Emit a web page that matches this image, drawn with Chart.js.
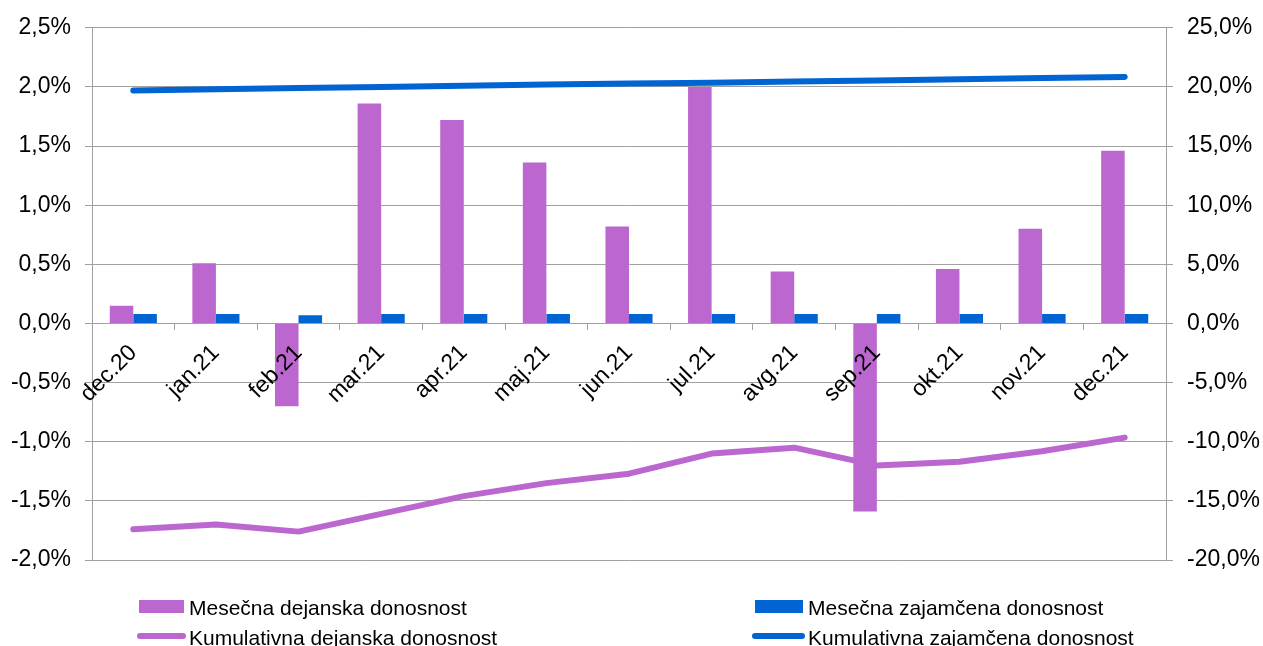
<!DOCTYPE html>
<html>
<head>
<meta charset="utf-8">
<script src="https://cdn.jsdelivr.net/npm/chart.js@4.4.0/dist/chart.umd.min.js"></script>
<style>
  body { margin: 0; background: #fff; overflow: hidden; }
  #wrap { position: relative; width: 1263px; height: 646px; }
  .leg { position: absolute; font-family: "Liberation Sans", Arial, sans-serif; font-size: 21px; color: #000; white-space: nowrap; line-height: 21px; }
  .sw { position: absolute; }
</style>
</head>
<body>
<div id="wrap">
  <canvas id="myChart"></canvas>
  <div class="sw" style="left:139px;top:600px;width:45px;height:13px;background:#bc66cf"></div>
  <div class="leg" style="left:189px;top:597px">Mesečna dejanska donosnost</div>
  <div class="sw" style="left:755px;top:600px;width:48px;height:13px;background:#0064d2"></div>
  <div class="leg" style="left:808px;top:597px">Mesečna zajamčena donosnost</div>
  <div class="sw" style="left:137px;top:633px;width:49px;height:6px;border-radius:3px;background:#bc66cf"></div>
  <div class="leg" style="left:189px;top:627px">Kumulativna dejanska donosnost</div>
  <div class="sw" style="left:752px;top:633px;width:53px;height:6px;border-radius:3px;background:#0064d2"></div>
  <div class="leg" style="left:808px;top:627px">Kumulativna zajamčena donosnost</div>
</div>
<script>
const months = ['dec.20', 'jan.21', 'feb.21', 'mar.21', 'apr.21', 'maj.21', 'jun.21',
  'jul.21', 'avg.21', 'sep.21', 'okt.21', 'nov.21', 'dec.21'];

// monthly returns, left axis (%)
const monthlyActual = [0.15, 0.51, -0.70, 1.86, 1.72, 1.36, 0.82, 2.00, 0.44, -1.59, 0.46, 0.80, 1.46];
const monthlyGuaranteed = [0.08, 0.08, 0.07, 0.08, 0.08, 0.08, 0.08, 0.08, 0.08, 0.08, 0.08, 0.08, 0.08];

// cumulative returns, right axis (%)
const cumActual = [-17.4, -17.0, -17.6, -16.1, -14.6, -13.5, -12.7, -11.0, -10.5, -12.0, -11.7, -10.8, -9.65];
const cumGuaranteed = [19.7, 19.8, 19.9, 20.0, 20.1, 20.2, 20.3, 20.35, 20.45, 20.55, 20.65, 20.75, 20.85];

const purple = '#bc66cf';
const blue = '#0064d2';
const grey = '#a0a0a0';
const font = { family: '"Liberation Sans", Arial, sans-serif', size: 23 };

const fmt = (v) => v.toFixed(1).replace('.', ',') + '%';

const ctx = document.getElementById('myChart');

new Chart(ctx, {
  data: {
    labels: months,
    datasets: [
      { type: 'line', label: 'Kumulativna dejanska donosnost', data: cumActual, yAxisID: 'y1',
        borderColor: purple, borderWidth: 6, borderCapStyle: 'round', borderJoinStyle: 'round',
        pointRadius: 0, tension: 0, order: 0 },
      { type: 'line', label: 'Kumulativna zajamčena donosnost', data: cumGuaranteed, yAxisID: 'y1',
        borderColor: blue, borderWidth: 6, borderCapStyle: 'round', borderJoinStyle: 'round',
        pointRadius: 0, tension: 0, order: 0 },
      { type: 'bar', label: 'Mesečna dejanska donosnost', data: monthlyActual, yAxisID: 'y',
        backgroundColor: purple, barPercentage: 1, categoryPercentage: 0.57, order: 1 },
      { type: 'bar', label: 'Mesečna zajamčena donosnost', data: monthlyGuaranteed, yAxisID: 'y',
        backgroundColor: blue, barPercentage: 1, categoryPercentage: 0.57, order: 1 },
    ],
  },
  options: {
    responsive: true,
    maintainAspectRatio: false,
    animation: false,
    layout: { padding: { top: 25, bottom: 86, left: 0, right: 0 } },
    plugins: { legend: { display: false }, tooltip: { enabled: false } },
    scales: {
      x: {
        position: { y: 0 },
        offset: true,
        grid: { display: true, drawOnChartArea: false, drawTicks: true, tickLength: 6, color: grey, offset: true },
        border: { display: true, color: grey },
        ticks: { z: 1, color: '#000', font: font, minRotation: 45, maxRotation: 45, padding: 10, autoSkip: false },
        afterFit: (scale) => { scale.height = 0; scale.paddingLeft = 0; scale.paddingRight = 0; },
      },
      y: {
        position: 'left',
        min: -2, max: 2.5,
        grid: { color: grey, tickLength: 7 },
        border: { display: true, color: grey },
        ticks: { stepSize: 0.5, color: '#000', font: font, padding: 14, callback: (v) => fmt(v) },
        afterFit: (scale) => { scale.width = 92; },
      },
      y1: {
        position: 'right',
        min: -20, max: 25,
        grid: { drawOnChartArea: false, color: grey, tickLength: 7 },
        border: { display: true, color: grey },
        ticks: { stepSize: 5, color: '#000', font: font, padding: 14, callback: (v) => fmt(v) },
        afterFit: (scale) => { scale.width = 97; },
      },
    },
  },
});
</script>
</body>
</html>
